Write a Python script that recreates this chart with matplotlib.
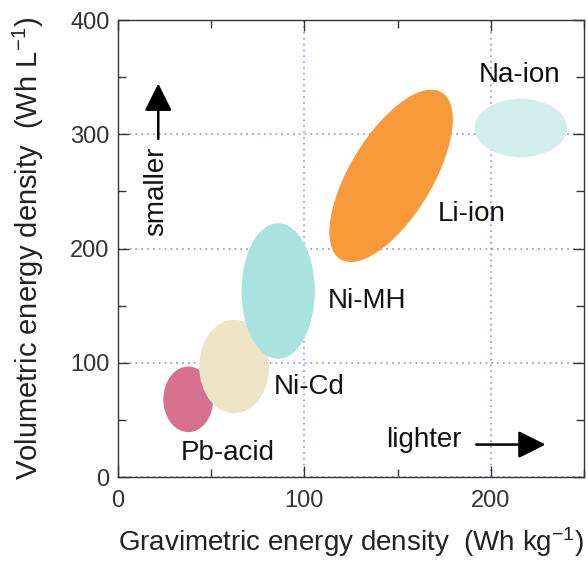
import matplotlib
matplotlib.use("Agg")
import matplotlib.pyplot as plt
from matplotlib.patches import Ellipse
from matplotlib.ticker import MultipleLocator

plt.rcParams["font.family"] = ["Liberation Sans", "DejaVu Sans"]
plt.rcParams["mathtext.default"] = "regular"

# battery chemistries: centre (Wh/kg, Wh/L), width, height, tilt (deg, data coords)
chemistries = ["Pb-acid", "Ni-Cd", "Ni-MH", "Li-ion", "Na-ion"]
grav_centre = [37.7, 62.3, 85.9, 146.5, 216.1]
vol_centre = [68.0, 96.7, 162.8, 263.6, 305.5]
grav_width = [26.8, 37.5, 39.3, 157.6, 49.7]
vol_height = [57.5, 81.7, 118.7, 48.0, 51.1]
tilt = [0, 0, 0, 72.3, 0]
colours = ["#d6718f", "#ece4c4", "#a9e3df", "#f69a3b", "#d2eeeb"]

# label positions (data coords)
label_x = [59, 102.4, 133.4, 189.7, 215.4]
label_y = [21.4, 79.2, 154.5, 230.6, 352.3]

fig = plt.figure(figsize=(5.88, 5.61), dpi=100)
ax = fig.add_axes([0.2007, 0.1497, 0.7925, 0.8146])

ax.set_xlim(0, 250)
ax.set_ylim(0, 400)

for x, y, w, h, a, c in zip(grav_centre, vol_centre, grav_width, vol_height, tilt, colours):
    ax.add_patch(Ellipse((x, y), w, h, angle=a, facecolor=c, edgecolor="none", zorder=2))

for name, x, y in zip(chemistries, label_x, label_y):
    ax.text(x, y, name, fontsize=20, ha="center", va="center", color="#111111", zorder=3)

# hints
arrow = dict(arrowstyle="-|>,head_length=0.6,head_width=0.3", color="black", lw=1.8,
             mutation_scale=28, shrinkA=0, shrinkB=0)
ax.annotate("", xy=(229.4, 28.4), xytext=(192.2, 28.4), arrowprops=arrow, zorder=4)
ax.text(164, 32, "lighter", fontsize=20, ha="center", va="center", color="#111111")
ax.annotate("", xy=(21.6, 344.4), xytext=(21.6, 296), arrowprops=arrow, zorder=4)
ax.text(20.7, 250, "smaller", fontsize=20, ha="center", va="center", rotation=90, color="#111111")

ax.xaxis.set_major_locator(MultipleLocator(100))
ax.xaxis.set_minor_locator(MultipleLocator(50))
ax.yaxis.set_major_locator(MultipleLocator(100))
ax.yaxis.set_minor_locator(MultipleLocator(50))
ax.tick_params(which="both", direction="in", top=True, right=True, color="#333333")
ax.tick_params(which="major", length=8, width=1, labelsize=17, labelcolor="#333333")
ax.tick_params(axis="x", which="major", pad=9)
ax.tick_params(axis="y", which="major", pad=6)
ax.tick_params(which="minor", length=6, width=1)

ax.grid(True, which="major", linestyle=(0, (1, 2.5)), color="#8f8fe0", lw=1.2, zorder=0)
ax.set_axisbelow(True)
for s in ax.spines.values():
    s.set_color("#333333")
    s.set_linewidth(1)

ax.set_xlabel("Gravimetric energy density  (Wh kg$^{-1}$)", fontsize=20, color="#222222")
ax.set_ylabel("Volumetric energy density  (Wh L$^{-1}$)", fontsize=21, color="#222222")
ax.xaxis.set_label_coords(0.5, -0.105)
ax.yaxis.set_label_coords(-0.155, 0.5)

fig.savefig("out.png", dpi=100)
